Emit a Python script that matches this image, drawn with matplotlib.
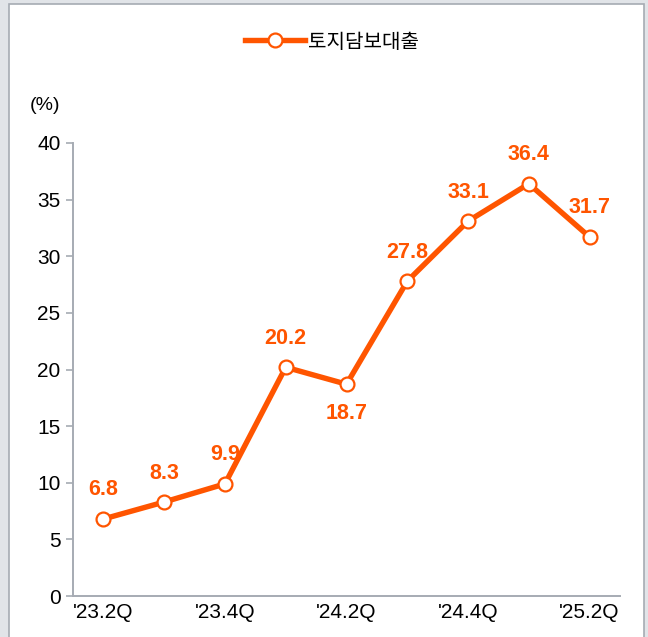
import matplotlib.pyplot as plt
from matplotlib.patches import Rectangle

quarters = ["'23.2Q", "'23.3Q", "'23.4Q", "'24.1Q", "'24.2Q", "'24.3Q", "'24.4Q", "'25.1Q", "'25.2Q"]
values = [6.8, 8.3, 9.9, 20.2, 18.7, 27.8, 33.1, 36.4, 31.7]
series_name = '토지담보대출'
below = ["'24.2Q"]

orange = '#ff5500'
grey = '#a6abb3'

plt.rcParams['font.family'] = ['Liberation Sans', 'Noto Sans CJK KR', 'DejaVu Sans']

fig = plt.figure(figsize=(6.48, 6.37), dpi=100, facecolor='#e1e4e8')
fig.patches.append(Rectangle((9 / 648, -0.02), 635 / 648, 1 - 4 / 637 + 0.02,
                             transform=fig.transFigure, facecolor='white',
                             edgecolor=grey, linewidth=1.2, zorder=-5))

ax = fig.add_axes([73 / 648, 1 - 596 / 637, 547 / 648, 453 / 637])
ax.set_facecolor('none')

x = list(range(len(quarters)))
ax.plot(x, values, color=orange, linewidth=3.9, marker='o', markersize=10,
        markerfacecolor='white', markeredgecolor=orange, markeredgewidth=1.6,
        label=series_name, zorder=3, clip_on=False)

for i, v in enumerate(values):
    dy = -29 if quarters[i] in below else 29
    ax.annotate(f'{v:.1f}', (i, v), xytext=(0, dy), textcoords='offset pixels',
                ha='center', va='center', color=orange, fontsize=15.5,
                fontweight='bold')

ax.set_xlim(-0.5, len(quarters) - 0.5)
ax.set_ylim(0, 40)
ax.set_yticks(range(0, 41, 5))
ax.set_xticks(x[::2])
ax.set_xticklabels(quarters[::2])
ax.tick_params(axis='x', length=0, pad=5, labelsize=15)
ax.tick_params(axis='y', length=5, color=grey, width=1.2, pad=4, labelsize=15)

for s in ['top', 'right']:
    ax.spines[s].set_visible(False)
for s in ['left', 'bottom']:
    ax.spines[s].set_color(grey)
    ax.spines[s].set_linewidth(1.4)

fig.text(30 / 648, 1 - 106 / 637, '(%)', fontsize=14, va='center', ha='left')

fig.legend(loc='center', bbox_to_anchor=(332 / 648, 1 - 42 / 637), frameon=False,
           prop={'family': ['Noto Sans CJK KR'], 'size': 14.5},
           handlelength=3.0, handletextpad=0.15)

fig.savefig('out.png', dpi=100, facecolor=fig.get_facecolor())
